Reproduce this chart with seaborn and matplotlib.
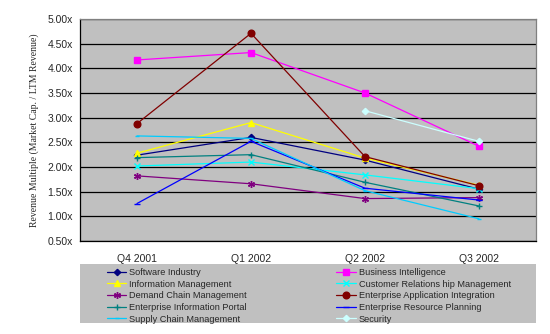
import numpy as np
import pandas as pd
import matplotlib
matplotlib.use("Agg")
import matplotlib.pyplot as plt
from matplotlib.patches import Rectangle
import seaborn as sns

quarters = ["Q4 2001", "Q1 2002", "Q2 2002", "Q3 2002"]

software_industry = [2.24, 2.60, 2.14, 1.55]
business_intelligence = [4.17, 4.32, 3.50, 2.42]
information_management = [2.28, 2.90, 2.18, 1.63]
customer_relationship = [2.02, 2.10, 1.84, 1.56]
demand_chain = [1.82, 1.66, 1.36, 1.38]
enterprise_app_integration = [2.88, 4.71, 2.21, 1.62]
enterprise_info_portal = [2.19, 2.25, 1.69, 1.21]
enterprise_resource_planning = [1.26, 2.52, 1.57, 1.33]
supply_chain = [2.63, 2.58, 1.52, 0.95]
security = [np.nan, np.nan, 3.14, 2.52]

series = [
    ("Software Industry", software_industry, "#000080", "D", 3.2),
    ("Business Intelligence", business_intelligence, "#FF00FF", "s", 4.5),
    ("Information Management", information_management, "#FFFF00", "^", 5),
    ("Customer Relations hip Management", customer_relationship, "#00FFFF", "x", 4),
    ("Demand Chain Management", demand_chain, "#800080", (6, 2, 0), 5),
    ("Enterprise Application Integration", enterprise_app_integration, "#800000", "o", 4.8),
    ("Enterprise Information Portal", enterprise_info_portal, "#008080", "+", 5),
    ("Enterprise Resource Planning", enterprise_resource_planning, "#0000FF", "_", 4),
    ("Supply Chain Management", supply_chain, "#00CCFF", "_", 2.5),
    ("Security", security, "#CCFFFF", "D", 3.2),
]

sns.set_theme(style="white")
plt.rcParams["font.family"] = ["Liberation Sans", "DejaVu Sans"]

W, H = 550, 334
fig = plt.figure(figsize=(W / 100, H / 100), dpi=100)
ax = fig.add_axes([80 / W, 1 - 241 / H, 456 / W, 222 / H])
ax.set_facecolor("#C0C0C0")

handles = {}
for name, vals, color, marker, ms in series:
    df = pd.DataFrame({"quarter": quarters, "value": vals})
    sns.lineplot(data=df, x="quarter", y="value", ax=ax, color=color,
                 marker=marker, markersize=ms, linewidth=0.9,
                 markeredgecolor=color, markeredgewidth=1.0, label=name,
                 legend=False)
    handles[name] = ax.lines[-1]

ax.set_xlim(-0.5, 3.5)
ax.set_ylim(0.5, 5.0)
yt = np.arange(0.5, 5.01, 0.5)
ax.set_yticks(yt)
ax.set_yticklabels([f"{v:.2f}x" for v in yt], fontsize=7.5)
ax.grid(axis="y", color="black", linewidth=0.9)
ax.set_axisbelow(True)

ax.set_xticks(range(4))
ax.set_xticklabels(quarters, fontsize=7.5)
ax.set_xticks([-0.5, 0.5, 1.5, 2.5, 3.5], minor=True)
ax.tick_params(axis="x", which="major", length=0, pad=9)
ax.tick_params(axis="x", which="minor", length=4, width=0.8, color="black", direction="out")
ax.tick_params(axis="y", length=6, width=0.8, color="black", direction="inout", pad=2)
ax.set_xlabel("")
ax.set_ylabel("Revenue Multiple (Market Cap. / LTM Revenue)",
              family="Liberation Serif", fontsize=7, labelpad=6)

for side in ["left", "bottom"]:
    ax.spines[side].set_color("black")
    ax.spines[side].set_linewidth(0.9)
for side in ["top", "right"]:
    ax.spines[side].set_color("#808080")
    ax.spines[side].set_linewidth(0.9)

# legend panel background
fig.patches.append(Rectangle((80 / W, 1 - 323 / H), 456 / W, 59 / H,
                             transform=fig.transFigure, facecolor="#C0C0C0",
                             edgecolor="none", zorder=0))

order = [
    "Software Industry", "Information Management", "Demand Chain Management",
    "Enterprise Information Portal", "Supply Chain Management",
    "Business Intelligence", "Customer Relations hip Management",
    "Enterprise Application Integration", "Enterprise Resource Planning", "Security",
]
leg = fig.legend([handles[n] for n in order], order, ncol=2,
                 loc="upper left",
                 bbox_to_anchor=(107 / W, 1 - 326 / H, 404 / W, 58 / H),
                 mode="expand", fontsize=6.6, frameon=False,
                 borderaxespad=0, borderpad=0, handlelength=2.1,
                 handletextpad=0.35, labelspacing=0.29, columnspacing=1.0)

fig.savefig("out.png", dpi=100, facecolor="white")
